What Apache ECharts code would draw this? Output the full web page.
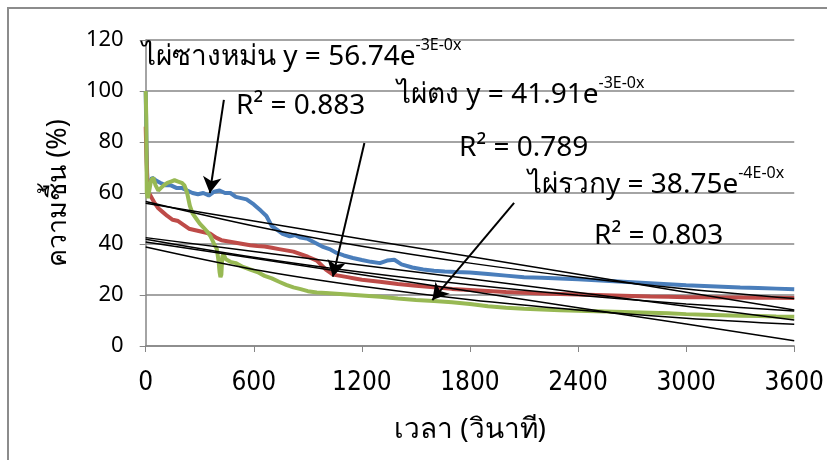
<!DOCTYPE html>
<html>
<head>
<meta charset="utf-8">
<script src="https://cdn.jsdelivr.net/npm/echarts@6/dist/echarts.min.js"></script>
<style>
html,body{margin:0;padding:0;background:#fff;}
#chart{width:827px;height:460px;}
</style>
</head>
<body>
<div id="chart"></div>
<script>
// ---- data ----
var xTicks = [0, 600, 1200, 1800, 2400, 3000, 3600];
var yTicks = [0, 20, 40, 60, 80, 100, 120];

// ไผ่ซางหม่น (blue)
var bluePts = [[0,100],[4,80],[10,62],[20,63],[35,66],[55,65],[80,64],[110,63],[140,63],[170,62],[200,62],[230,61],[260,60],[290,59.5],[320,60],[350,59],[380,60.5],[410,61],[440,60],[470,60],[500,58.5],[530,58],[560,57.5],[600,55.5],[640,53],[670,51],[700,47],[730,45.5],[760,44],[800,43],[830,43.5],[860,42.5],[900,42],[940,40.5],[980,39],[1020,38],[1060,36.5],[1100,35.5],[1150,34.5],[1200,33.7],[1250,33],[1300,32.5],[1340,33.5],[1380,33.8],[1420,32],[1480,30.8],[1540,30],[1600,29.5],[1660,29.2],[1720,29],[1800,28.8],[1900,28.2],[2000,27.6],[2100,27],[2200,26.8],[2300,26.5],[2400,26.2],[2500,25.8],[2600,25.4],[2700,25],[2800,24.6],[2900,24.2],[3000,23.8],[3100,23.5],[3200,23.2],[3300,22.9],[3400,22.7],[3500,22.5],[3600,22.3]];

// ไผ่ตง (red)
var redPts = [[0,86],[5,72],[10,63],[18,60],[30,58.5],[50,56],[70,54],[95,52.5],[120,51],[150,49.5],[180,49],[210,47.5],[240,46],[270,45.5],[300,45],[330,44.5],[360,44],[390,42.5],[420,41.5],[460,41],[500,40.5],[540,40],[580,39.5],[620,39.2],[660,39],[700,38.5],[740,38],[780,37.5],[820,37],[860,36],[900,35],[950,33.5],[1000,30],[1040,28],[1080,27.5],[1120,27],[1160,26.5],[1200,26],[1300,25.2],[1400,24.3],[1500,23.6],[1600,23],[1700,22.4],[1800,22],[1900,21.6],[2000,21.2],[2100,20.9],[2200,20.6],[2300,20.4],[2400,20.2],[2500,20],[2600,19.8],[2700,19.6],[2800,19.4],[2900,19.3],[3000,19.1],[3100,19.1],[3200,19],[3300,19],[3400,18.9],[3500,18.9],[3600,18.8]];

// ไผ่รวก (green)
var greenPts = [[0,100],[3,90],[6,60],[12,58],[20,61],[30,65],[42,66],[55,63],[70,61],[85,62],[100,63],[120,64],[140,64.5],[160,65],[180,64.5],[200,64],[215,63],[230,60],[245,55],[260,52],[280,50],[300,48],[320,46.5],[340,45],[360,43],[380,40],[395,38],[405,33],[410,29],[415,27],[420,28],[425,35],[432,36],[445,34],[470,33],[500,32.5],[540,31],[580,30],[620,29],[660,27.5],[700,26.5],[740,25.2],[780,24],[820,23],[860,22.3],[900,21.5],[950,21],[1000,20.8],[1100,20.3],[1200,19.8],[1300,19.3],[1400,18.6],[1500,18],[1600,17.6],[1700,17.2],[1800,16.5],[1900,15.6],[2000,15],[2100,14.6],[2200,14.3],[2300,14],[2400,13.8],[2500,13.6],[2600,13.4],[2700,13.2],[2800,13],[2900,12.8],[3000,12.5],[3100,12.3],[3200,12.1],[3300,11.9],[3400,11.8],[3500,11.6],[3600,11.5]];

// trend lines, values read at xTicks
var trendBlueExp  = [56.7, 47.1, 39.1, 32.5, 27.0, 22.4, 18.6];
var trendBlueLin  = [56.0, 49.0, 42.0, 35.1, 28.1, 21.1, 14.1];
var trendRedExp   = [41.9, 34.8, 28.9, 24.0, 19.9, 16.5, 13.7];
var trendRedLin   = [42.5, 37.1, 31.7, 26.4, 21.0, 15.6, 10.2];
var trendGreenExp = [38.8, 30.0, 23.4, 18.1, 14.1, 10.9, 8.5];
var trendGreenLin = [40.8, 34.4, 27.9, 21.5, 15.0, 8.6, 2.1];

// arrows [from, to] in data coordinates
var arrows = [
  [[434, 96.5], [356, 60]],
  [[1214, 79.6], [1039, 27.2]],
  [[2045, 56.1], [1591, 18.0]]
];

var labelsText = [
  {name:'ไผ่ซางหม่น y = 56.74e', sup:'-3E-0x', x:142, y:37},
  {name:'R² = 0.883', sup:'', x:236, y:92},
  {name:'ไผ่ตง y = 41.91e', sup:'-3E-0x', x:397, y:75},
  {name:'R² = 0.789', sup:'', x:459, y:134},
  {name:'ไผ่รวกy = 38.75e', sup:'-4E-0x', x:528, y:165},
  {name:'R² = 0.803', sup:'', x:594, y:222}
];

var chart = echarts.init(document.getElementById('chart'), null, {renderer:'canvas'});
var FONT = 'Noto Sans, Tahoma, sans-serif';

function trendSeries(vals, smooth) {
  return {
    type:'line', data: xTicks.map(function(x,i){return [x, vals[i]];}),
    symbol:'none', smooth: smooth ? 0.35 : false, silent:true,
    lineStyle:{color:'#000', width:1.5}, z:5
  };
}

var graphics = [{
  type:'rect', shape:{x:8, y:8, width:900, height:600},
  style:{fill:'none', stroke:'#8c8c8c', lineWidth:2}, silent:true, z:-1
}];
labelsText.forEach(function(t){
  graphics.push({
    type:'text', left:t.x, top:t.y, z:20,
    style:{
      text: t.sup ? '{m|' + t.name + '}{s|' + t.sup + '}' : '{m|' + t.name + '}',
      rich:{
        m:{fontSize:28, fontFamily:FONT, fill:'#000', verticalAlign:'middle', lineHeight:40},
        s:{fontSize:16, fontFamily:FONT, fill:'#000', verticalAlign:'top', lineHeight:16}
      }
    }
  });
});

var option = {
  animation:false,
  backgroundColor:'#fff',
  grid:{left:145.7, right:31.3, top:40, bottom:114},
  xAxis:{
    type:'value', min:0, max:3600, interval:600,
    name:'เวลา (วินาที)', nameLocation:'middle', nameGap:70,
    nameTextStyle:{fontSize:28, fontFamily:FONT, color:'#000'},
    axisLine:{lineStyle:{color:'#868686', width:1.5}},
    axisTick:{show:true, length:6, lineStyle:{color:'#868686'}},
    axisLabel:{fontSize:26, fontFamily:'Liberation Sans Narrow, DejaVu Sans Condensed, sans-serif', color:'#000', margin:24,
      formatter:function(v){return String(v);}},
    splitLine:{show:false}
  },
  yAxis:{
    type:'value', min:0, max:120, interval:20,
    name:'ความชื้น (%)', nameLocation:'middle', nameGap:74, nameRotate:90,
    nameTextStyle:{fontSize:27, fontFamily:FONT, color:'#000'},
    axisLine:{show:true, lineStyle:{color:'#868686', width:1.5}},
    axisTick:{show:true, length:6, lineStyle:{color:'#868686'}},
    axisLabel:{fontSize:22, fontFamily:FONT, color:'#000', margin:22},
    splitLine:{show:true, lineStyle:{color:'#868686', width:1.5}}
  },
  graphic: graphics,
  series:[
    {type:'line', data:bluePts, symbol:'none', lineStyle:{color:'#4A7EBB', width:4}, z:3},
    {type:'line', data:redPts, symbol:'none', lineStyle:{color:'#BE4B48', width:4}, z:3},
    {type:'line', data:greenPts, symbol:'none', lineStyle:{color:'#98B954', width:4}, z:3},
    trendSeries(trendBlueExp, true),
    trendSeries(trendBlueLin, false),
    trendSeries(trendRedExp, true),
    trendSeries(trendRedLin, false),
    trendSeries(trendGreenExp, true),
    trendSeries(trendGreenLin, false),
    {
      type:'line', data:[], silent:true,
      markLine:{
        silent:true, symbol:['none','arrow'], symbolSize:[14,16],
        label:{show:false},
        lineStyle:{color:'#000', width:2, type:'solid'},
        data: arrows.map(function(a){return [{coord:a[0]},{coord:a[1]}];})
      }, z:10
    }
  ]
};
chart.setOption(option);
</script>
</body>
</html>
